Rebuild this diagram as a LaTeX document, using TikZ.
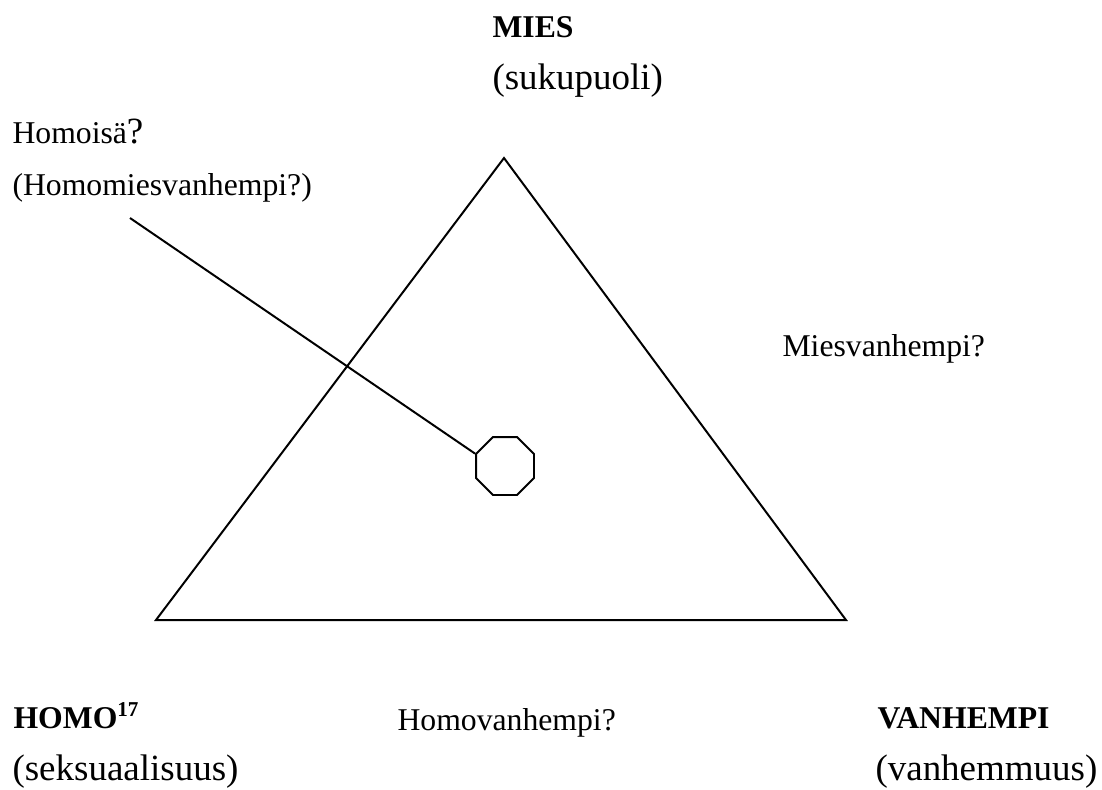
\documentclass[tikz,border=0pt]{standalone}
\usepackage{fontspec}
\setmainfont{Liberation Serif}
\usepackage{tikz}
\usetikzlibrary{shapes.geometric}

\begin{document}
\begin{tikzpicture}[
	x=0.0133cm, y=-0.0133cm,
	important line/.style={line width=0.75pt},
	heading/.style={anchor=base west, inner sep=0pt, font=\fontsize{12}{14}\selectfont\bfseries},
	subheading/.style={anchor=base west, inner sep=0pt, font=\fontsize{14}{16}\selectfont},
	mid label/.style={anchor=base west, inner sep=0pt, font=\fontsize{12}{14}\selectfont},
	every node/.style={color=black}
	]
	\useasboundingbox (0,0) rectangle (1102,789);
	% triangle
	\coordinate (mies) at (504,158);
	\coordinate (homo) at (156,620);
	\coordinate (vanhempi) at (846,620);
	\draw[important line] (mies) -- (vanhempi) -- (homo) -- cycle;
	% octagon and its pointer
	\node[draw, important line, regular polygon, regular polygon sides=8,
		minimum size=0.835cm, inner sep=0pt] (oct) at (505,466) {};
	\coordinate (pointer) at (130,218);
	\draw[important line] (pointer) -- (oct.corner 3);
	% corner labels
	\node[heading] (miesname) at (492,37) {MIES};
	\node[subheading] (miessub) at (492,89) {(sukupuoli)};
	\node[heading] (homoname) at (13,728) {HOMO\textsuperscript{17}};
	\node[subheading] (homosub) at (12,780) {(seksuaalisuus)};
	\node[heading] (vanhname) at (877,728) {VANHEMPI};
	\node[subheading] (vanhsub) at (875,780) {(vanhemmuus)};
	% side labels
	\node[mid label] (homoisa) at (12,143) {Homoisä{\fontsize{14}{16}\selectfont ?}};
	\node[mid label] (homomies) at (12,195) {(Homomiesvanhempi?)};
	\node[mid label] (miesv) at (782,356) {Miesvanhempi?};
	\node[mid label] (homov) at (397,730) {Homovanhempi?};
\end{tikzpicture}
\end{document}
